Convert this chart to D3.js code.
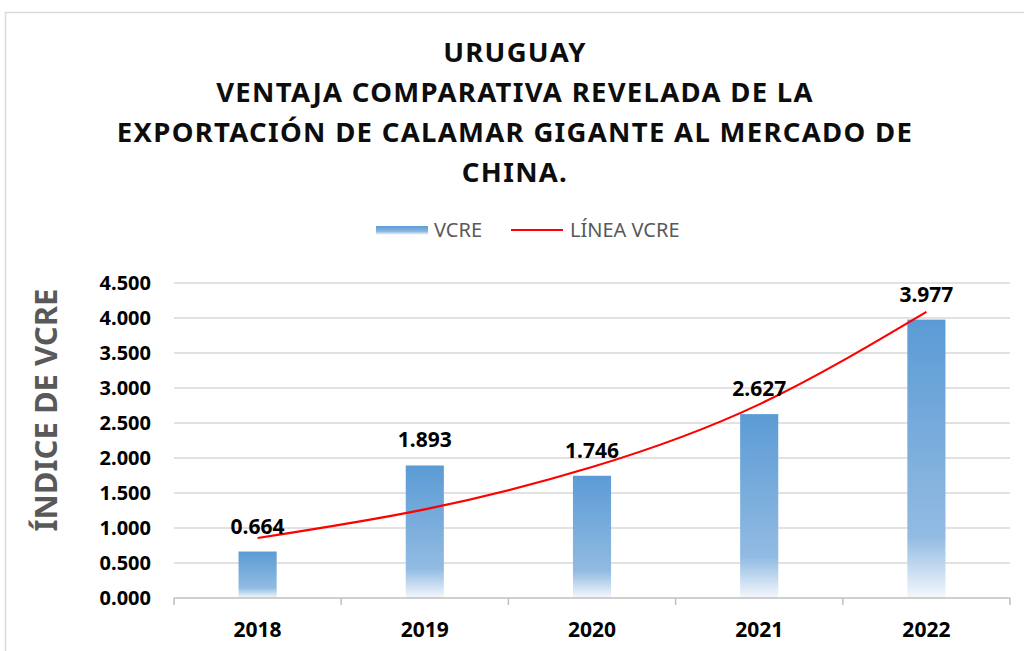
<!DOCTYPE html>
<html>
<head>
<meta charset="utf-8">
<script src="https://cdn.jsdelivr.net/npm/d3@7"></script>
<style>
  body { margin: 0; background: #fff; }
  text { font-family: "Noto Sans", "Open Sans", sans-serif; }
</style>
</head>
<body>
<svg id="chart" width="1024" height="651"></svg>
<script>
// data
var years = ["2018", "2019", "2020", "2021", "2022"];
var vcre = [0.664, 1.893, 1.746, 2.627, 3.977];
// exponential trendline, value at each year
var trend = [0.857, 1.266, 1.871, 2.766, 4.088];
var yTicks = [0, 0.5, 1, 1.5, 2, 2.5, 3, 3.5, 4, 4.5];
var titleLines = ["URUGUAY", "VENTAJA COMPARATIVA REVELADA DE LA",
    "EXPORTACIÓN DE CALAMAR GIGANTE AL MERCADO DE", "CHINA."];

var svg = d3.select("#chart");
var fmt = d3.format(".3f");

// outer chart border
svg.append("rect")
    .attr("x", 5.5).attr("y", 12.5)
    .attr("width", 1030).attr("height", 660)
    .attr("fill", "none").attr("stroke", "#d9d9d9").attr("stroke-width", 1.5);

var x = d3.scaleBand().domain(years).range([174, 1010]).paddingInner(0.772).paddingOuter(0.386);
var y = d3.scaleLinear().domain([0, 4.5]).range([598, 283]);

var defs = svg.append("defs");
var grad = defs.append("linearGradient").attr("id", "barGrad")
    .attr("x1", 0).attr("y1", 0).attr("x2", 0).attr("y2", 1);
grad.append("stop").attr("offset", "0%").attr("stop-color", "#5b9bd5");
grad.append("stop").attr("offset", "78%").attr("stop-color", "#92bbe2");
grad.append("stop").attr("offset", "100%").attr("stop-color", "#f4f8fc");

var lgGrad = defs.append("linearGradient").attr("id", "lgGrad")
    .attr("x1", 0).attr("y1", 0).attr("x2", 0).attr("y2", 1);
lgGrad.append("stop").attr("offset", "0%").attr("stop-color", "#5b9bd5");
lgGrad.append("stop").attr("offset", "60%").attr("stop-color", "#8db7e0");
lgGrad.append("stop").attr("offset", "100%").attr("stop-color", "#ffffff");

// title
svg.append("g").selectAll("text").data(titleLines).enter().append("text")
    .attr("x", 515)
    .attr("y", function(d, i) { return 62 + i * 40; })
    .attr("text-anchor", "middle")
    .attr("font-size", "27.5px")
    .attr("font-weight", "bold")
    .attr("letter-spacing", "1.3px")
    .attr("fill", "#0d0d0d")
    .text(function(d) { return d; });

// gridlines
svg.append("g").selectAll("line").data(yTicks.slice(1)).enter().append("line")
    .attr("x1", 174).attr("x2", 1010)
    .attr("y1", function(d) { return y(d); })
    .attr("y2", function(d) { return y(d); })
    .attr("stroke", "#d9d9d9").attr("stroke-width", 1.5);

// y tick labels
svg.append("g").selectAll("text").data(yTicks).enter().append("text")
    .attr("x", 151)
    .attr("y", function(d) { return y(d) + 7; })
    .attr("text-anchor", "end")
    .attr("font-size", "20px")
    .attr("font-weight", "bold")
    .attr("fill", "#000")
    .text(function(d) { return fmt(d); });

// y axis title
svg.append("text")
    .attr("transform", "translate(57,410) rotate(-90)")
    .attr("text-anchor", "middle")
    .attr("font-size", "31px")
    .attr("font-weight", "bold")
    .attr("fill", "#595959")
    .text("ÍNDICE DE VCRE");

// bars
svg.append("g").selectAll("rect").data(vcre).enter().append("rect")
    .attr("x", function(d, i) { return x(years[i]); })
    .attr("y", function(d) { return y(d); })
    .attr("width", x.bandwidth())
    .attr("height", function(d) { return y(0) - y(d); })
    .attr("fill", "url(#barGrad)");

// x axis
var xAxis = d3.axisBottom(x).tickSize(0).tickPadding(24);
var gx = svg.append("g").attr("transform", "translate(0," + y(0) + ")").call(xAxis);
gx.select(".domain").remove();
gx.append("line").attr("x1", 174).attr("x2", 1010).attr("y1", 0).attr("y2", 0)
    .attr("stroke", "#bfbfbf").attr("stroke-width", 1.5);
var step = x.step();
gx.selectAll(".sep").data(d3.range(years.length + 1)).enter().append("line")
    .attr("x1", function(i) { return 174 + i * step; })
    .attr("x2", function(i) { return 174 + i * step; })
    .attr("y1", 0).attr("y2", 7)
    .attr("stroke", "#bfbfbf").attr("stroke-width", 1.5);
gx.selectAll(".tick text")
    .attr("font-family", "Noto Sans, Open Sans, sans-serif")
    .attr("font-size", "21px")
    .attr("font-weight", "bold")
    .attr("fill", "#000");

// trend line
var cx = function(i) { return x(years[i]) + x.bandwidth() / 2; };
var line = d3.line()
    .x(function(d, i) { return cx(i); })
    .y(function(d) { return y(d); })
    .curve(d3.curveNatural);
svg.append("path").datum(trend)
    .attr("d", line)
    .attr("fill", "none")
    .attr("stroke", "#ff0000")
    .attr("stroke-width", 2.2);

// data labels
svg.append("g").selectAll("text").data(vcre).enter().append("text")
    .attr("x", function(d, i) { return cx(i); })
    .attr("y", function(d) { return y(d) - 18; })
    .attr("text-anchor", "middle")
    .attr("font-size", "21px")
    .attr("font-weight", "bold")
    .attr("fill", "#000")
    .text(function(d) { return fmt(d); });

// legend
var lg = svg.append("g");
lg.append("rect").attr("x", 376).attr("y", 226).attr("width", 52).attr("height", 9)
    .attr("fill", "url(#lgGrad)");
lg.append("text").attr("x", 434).attr("y", 237)
    .attr("font-size", "20px").attr("fill", "#595959").text("VCRE");
lg.append("line").attr("x1", 511).attr("x2", 563).attr("y1", 230).attr("y2", 230)
    .attr("stroke", "#ff0000").attr("stroke-width", 2.2);
lg.append("text").attr("x", 570).attr("y", 237)
    .attr("font-size", "20px").attr("fill", "#595959").text("LÍNEA VCRE");
</script>
</body>
</html>
